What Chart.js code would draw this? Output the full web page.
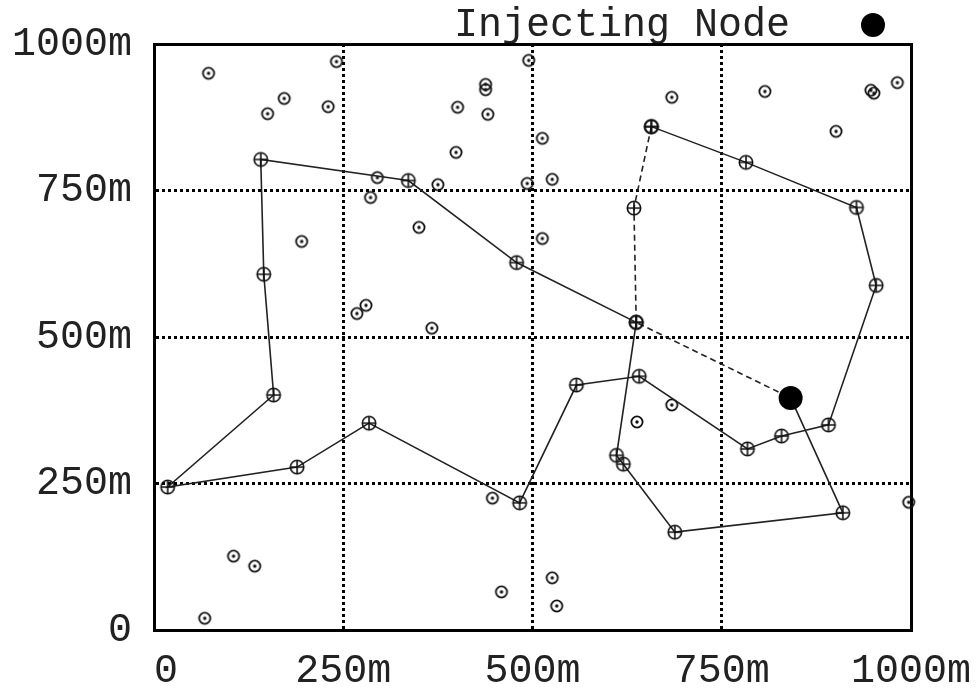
<!DOCTYPE html>
<html>
<head>
<meta charset="utf-8">
<script src="https://cdn.jsdelivr.net/npm/chart.js@4.4.1/dist/chart.umd.min.js"></script>
<style>
  html, body { margin: 0; padding: 0; background: #fff; }
  #wrap { width: 978px; height: 689px; }
</style>
</head>
<body>
<div id="wrap"><canvas id="chart"></canvas></div>
<script>
// Axis ticks (metres)
const tickMin = 0;
const tickMax = 1000;
const tickStep = 250;

// Long route (solid line), ends at the injecting node
const routeX = [657, 782, 928, 954, 891, 829, 784, 641, 558, 483, 284, 189, 18, 158, 145, 141, 336, 479, 637, 611, 620, 688, 910, 841];
const routeY = [859, 798, 721, 588, 350, 331, 309, 433, 418, 217, 353, 278, 244, 401, 607, 803, 767, 627, 525, 298, 283, 167, 200, 396];

// Short route (dashed line)
const shortX = [657, 634, 637, 841];
const shortY = [859, 720, 525, 396];

// Other sensor nodes
const nodeX = [72, 241, 172, 150, 230, 438, 438, 401, 441, 399, 495, 513, 526, 493, 375, 286, 295, 350, 195, 513, 280, 268, 367, 638, 684, 684, 807, 947, 951, 982, 901, 105, 133, 67, 447, 459, 526, 532, 997];
const nodeY = [950, 970, 907, 881, 893, 931, 922, 892, 880, 815, 972, 839, 769, 762, 760, 738, 772, 687, 663, 668, 554, 540, 515, 355, 384, 909, 919, 921, 916, 934, 851, 126, 109, 20, 225, 65, 89, 41, 218];

// Injecting node
const injectX = [841];
const injectY = [396];

const toPoints = (xs, ys) => xs.map((x, i) => ({ x: x, y: ys[i] }));

// Marker images
function dotMarker() {
  const c = document.createElement('canvas');
  c.width = c.height = 16;
  const g = c.getContext('2d');
  g.strokeStyle = '#111';
  g.lineWidth = 1.8;
  g.beginPath(); g.arc(8, 8, 5.6, 0, Math.PI * 2); g.stroke();
  g.fillStyle = '#111';
  g.beginPath(); g.arc(8, 8, 1.7, 0, Math.PI * 2); g.fill();
  return c;
}

function crossMarker() {
  const c = document.createElement('canvas');
  c.width = c.height = 18;
  const g = c.getContext('2d');
  g.strokeStyle = '#111';
  g.lineWidth = 1.6;
  g.beginPath(); g.arc(9, 9, 6.7, 0, Math.PI * 2); g.stroke();
  g.beginPath();
  g.moveTo(9, 2.3); g.lineTo(9, 15.7);
  g.moveTo(2.3, 9); g.lineTo(15.7, 9);
  g.stroke();
  return c;
}

// legend sample: black disc sitting left of the image centre
function legendMarker() {
  const c = document.createElement('canvas');
  c.width = 70; c.height = 26;
  const g = c.getContext('2d');
  g.fillStyle = '#000';
  g.beginPath(); g.arc(14, 13, 12, 0, Math.PI * 2); g.fill();
  return c;
}

const fontFamily = "'Liberation Mono', 'DejaVu Sans Mono', monospace";
const yFont = { family: fontFamily, size: 40, lineHeight: 1 };
const xFont = { family: fontFamily, size: 40, lineHeight: 2.05 };
const inner = v => v !== tickMin && v !== tickMax;

new Chart('chart', {
  type: 'scatter',
  data: {
    datasets: [
      {
        label: 'nodes',
        data: toPoints(nodeX, nodeY),
        pointStyle: dotMarker(),
        pointRadius: 6,
        showLine: false,
        clip: false,
        order: 3
      },
      {
        label: 'route',
        data: toPoints(routeX, routeY),
        showLine: true,
        borderColor: '#222',
        borderWidth: 1.6,
        pointStyle: crossMarker(),
        pointRadius: 7,
        clip: false,
        order: 2
      },
      {
        label: 'short',
        data: toPoints(shortX, shortY),
        showLine: true,
        borderColor: '#222',
        borderWidth: 1.6,
        borderDash: [6, 4],
        pointStyle: crossMarker(),
        pointRadius: 7,
        clip: false,
        order: 2
      },
      {
        label: 'Injecting Node   ',
        data: toPoints(injectX, injectY),
        pointStyle: 'circle',
        pointRadius: 12,
        backgroundColor: '#000',
        borderColor: '#000',
        borderWidth: 0,
        clip: false,
        order: 0
      }
    ]
  },
  options: {
    responsive: true,
    maintainAspectRatio: false,
    animation: false,
    events: [],
    layout: { padding: { left: -10, right: 67, top: 0, bottom: -23 } },
    plugins: {
      tooltip: { enabled: false },
      legend: {
        position: 'top',
        align: 'start',
        rtl: true,
        maxHeight: 44,
        labels: {
          filter: item => item.datasetIndex === 3,
          usePointStyle: true,
          pointStyle: legendMarker(),
          boxWidth: 24,
          boxHeight: 20,
          padding: 5,
          color: '#222',
          font: yFont
        }
      }
    },
    scales: {
      x: {
        type: 'linear',
        min: tickMin,
        max: tickMax,
        ticks: {
          stepSize: tickStep,
          color: '#222',
          font: xFont,
          padding: 0,
          maxRotation: 0,
          callback: v => v === 0 ? ' 0' : v + 'm'
        },
        grid: {
          drawTicks: false,
          lineWidth: 3,
          color: ctx => inner(ctx.tick.value) ? '#000' : 'rgba(0,0,0,0)'
        },
        border: { display: true, color: '#000', width: 3, dash: [3, 3] }
      },
      y: {
        type: 'linear',
        min: tickMin,
        max: tickMax,
        ticks: {
          stepSize: tickStep,
          color: '#222',
          font: yFont,
          padding: 22,
          callback: v => v === 0 ? '0' : v + 'm'
        },
        grid: {
          drawTicks: false,
          lineWidth: 3,
          color: ctx => inner(ctx.tick.value) ? '#000' : 'rgba(0,0,0,0)'
        },
        border: { display: true, color: '#000', width: 3, dash: [3, 3] }
      },
      x2: {
        type: 'linear',
        position: 'top',
        min: tickMin,
        max: tickMax,
        ticks: { display: false },
        grid: { display: false, drawTicks: false },
        border: { display: true, color: '#000', width: 3 }
      },
      y2: {
        type: 'linear',
        position: 'right',
        min: tickMin,
        max: tickMax,
        ticks: { display: false },
        grid: { display: false, drawTicks: false },
        border: { display: true, color: '#000', width: 3 }
      }
    }
  }
});
</script>
</body>
</html>
